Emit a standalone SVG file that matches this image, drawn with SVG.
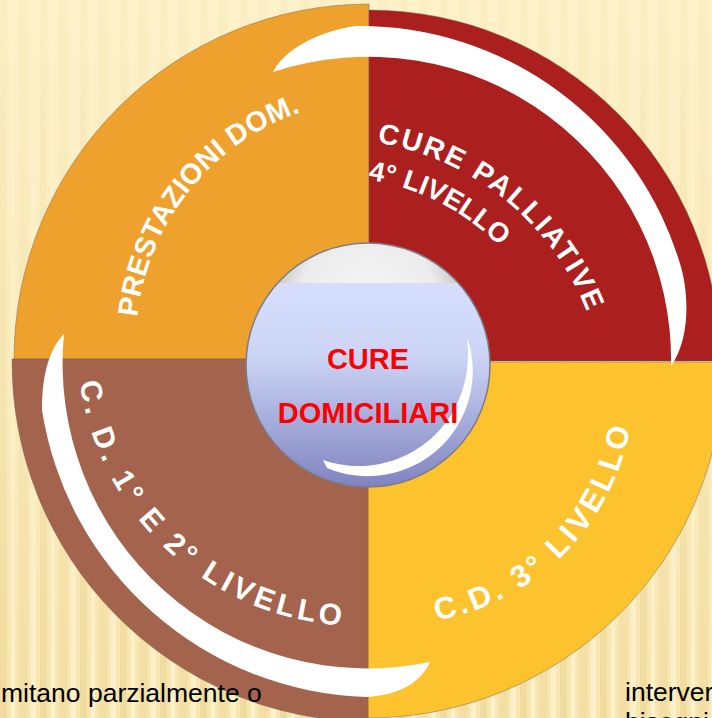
<svg xmlns="http://www.w3.org/2000/svg" width="712" height="718" viewBox="0 0 712 718">
<defs>
<style>
.seg{stroke:#6f6258;stroke-opacity:.45;stroke-width:1}
.lbl{font-family:"Liberation Sans",Arial,sans-serif;font-weight:bold;fill:#ffffff}
.ctr{font-family:"Liberation Sans",Arial,sans-serif;font-weight:bold;fill:#ff0000;font-size:29px;text-anchor:middle}
.body{font-family:"Liberation Sans",Arial,sans-serif;font-size:26.5px;fill:#000000}
.swoosh{fill:#ffffff}
</style>
<linearGradient id="bg" x1="0" y1="0" x2="0" y2="1">
<stop offset="0" stop-color="#fcf1c8"/>
<stop offset="1" stop-color="#f8e6b0"/>
</linearGradient>
<pattern id="stripes" width="40" height="718" patternUnits="userSpaceOnUse">
<rect x="0" y="0" width="7" height="718" fill="#e3c67f" opacity="0.35"/>
<rect x="11" y="0" width="4" height="718" fill="#fffbe6" opacity="0.55"/>
<rect x="19" y="0" width="9" height="718" fill="#e3c67f" opacity="0.25"/>
<rect x="31" y="0" width="5" height="718" fill="#fffbe6" opacity="0.5"/>
</pattern>
<linearGradient id="fade" x1="0" y1="0" x2="0" y2="1">
<stop offset="0" stop-color="#fff" stop-opacity="0.2"/>
<stop offset="0.6" stop-color="#fff" stop-opacity="0.5"/>
<stop offset="1" stop-color="#fff" stop-opacity="1"/>
</linearGradient>
<mask id="stripeMask"><rect width="712" height="718" fill="url(#fade)"/></mask>
<clipPath id="ic"><circle cx="368" cy="365" r="122"/></clipPath>
<linearGradient id="blue" gradientUnits="userSpaceOnUse" x1="0" y1="283" x2="0" y2="487">
<stop offset="0" stop-color="#d6defc"/>
<stop offset="0.35" stop-color="#cdd5f6"/>
<stop offset="1" stop-color="#7f84c0"/>
</linearGradient>
<radialGradient id="cap" gradientUnits="userSpaceOnUse" cx="368" cy="300" r="125">
<stop offset="0" stop-color="#f6f6f6"/>
<stop offset="0.55" stop-color="#ebebeb"/>
<stop offset="0.85" stop-color="#b3b3b3"/>
<stop offset="1" stop-color="#7d7d7d"/>
</radialGradient>
<path id="pPres" d="M137.4,317.1 A244,244 0 0 1 337.6,102.7"/>
<path id="pCure" d="M377.1,142.6 A273,273 0 0 1 605,388"/>
<path id="pLiv4" d="M368.1,179.6 A235,235 0 0 1 536.5,294.5"/>
<path id="pCD12" d="M79.8,382.4 A283,283 0 0 0 409.1,621.7"/>
<path id="pCD3" d="M436.5,620.4 A239,239 0 0 0 634,385"/>
</defs>

<rect width="712" height="718" fill="url(#bg)"/>
<rect width="712" height="718" fill="url(#stripes)" mask="url(#stripeMask)"/>

<g id="node-prestazioni">
<path class="seg" d="M369,359 L14,359 A355,355 0 0 1 369,4 Z" fill="#efa12d"/>
<text class="lbl" font-size="28.5" letter-spacing="0.3"><textPath href="#pPres">PRESTAZIONI DOM.</textPath></text>
</g>

<g id="node-cure-palliative">
<path class="seg" d="M369,361 L369,10 A351,351 0 0 1 720,361 Z" fill="#ac1f1f"/>
<text class="lbl" font-size="28.5" letter-spacing="2.2"><textPath href="#pCure">CURE PALLIATIVE</textPath></text>
<text class="lbl" font-size="27.5" letter-spacing="0"><textPath href="#pLiv4">4° LIVELLO</textPath></text>
</g>

<g id="node-cd3">
<path class="seg" d="M368,362 L724,362 A356,356 0 0 1 368,718 Z" fill="#fdc32f"/>
<text class="lbl" font-size="31" letter-spacing="3.6"><textPath href="#pCD3">C.D. 3° LIVELLO</textPath></text>
</g>

<g id="node-cd12">
<path class="seg" d="M368,359 L12,359 A360,360 0 0 0 368,722 Z" fill="#a4634d"/>
<text class="lbl" font-size="30" letter-spacing="4"><textPath href="#pCD12">C. D. 1° E 2° LIVELLO</textPath></text>
</g>

<g id="connectors">
<path class="swoosh" d="M273,72 C284,50 318,31 356,26 A334,334 0 0 1 681,267 C689,295 690,340 671,366 A303,303 0 0 0 273,72 Z"/>
<path class="swoosh" d="M430,662 C421,682 400,695 367,697 A339,339 0 0 1 42,410 C42,373 50,348 64,334 A305,305 0 0 0 430,662 Z"/>
</g>

<g id="node-center">
<circle cx="368" cy="365" r="122" fill="url(#blue)"/>
<rect x="240" y="240" width="260" height="43" fill="url(#cap)" clip-path="url(#ic)"/>
<circle cx="368" cy="365" r="122" fill="none" stroke="#7c7c86" stroke-width="1.5"/>
<path class="swoosh" d="M467,337 A105,105 0 0 1 327,468 L323,460 C395,485 478,430 467,337 Z"/>
<text class="ctr" x="368" y="369">CURE</text>
<text class="ctr" x="368" y="423">DOMICILIARI</text>
</g>

<g id="body-text">
<text class="body" x="1" y="702">mitano parzialmente o</text>
<text class="body" x="625" y="701">interver</text>
<text class="body" x="625" y="731">bisogni</text>
</g>
</svg>
